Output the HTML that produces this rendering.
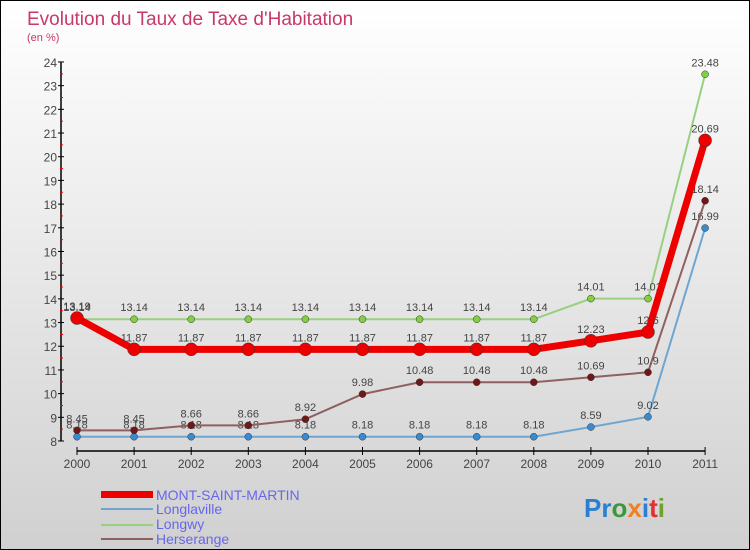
<!DOCTYPE html>
<html><head><meta charset="utf-8"><style>
body{margin:0}
#c{width:750px;height:550px;position:relative;font-family:"Liberation Sans",sans-serif;background:linear-gradient(#ffffff,#d0d0d0);box-sizing:border-box;border:1px solid #000;overflow:hidden}
</style></head><body>
<div id="c">
<svg id="s" width="750" height="550" style="position:absolute;left:0;top:0">
<text x="26" y="24" font-size="19" fill="#c8386a">Evolution du Taux de Taxe d'Habitation</text>
<text x="26" y="40" font-size="11" fill="#c8386a">(en %)</text>
<g id="g"></g>
<g>
<rect x="100" y="490" width="52" height="7" fill="#e00"/>
<text x="155" y="499" font-size="14" fill="#6666ee">MONT-SAINT-MARTIN</text>
<rect x="100" y="507" width="52" height="2" fill="#6fa6d0"/>
<text x="155" y="513" font-size="14" fill="#6666ee">Longlaville</text>
<rect x="100" y="523" width="52" height="2" fill="#99d080"/>
<text x="155" y="528" font-size="14" fill="#6666ee">Longwy</text>
<rect x="100" y="537" width="52" height="2" fill="#906060"/>
<text x="155" y="543" font-size="14" fill="#6666ee">Herserange</text>
</g>
<text x="583" y="516" font-size="26" font-weight="bold"><tspan fill="#2a7fd0">Pr</tspan><tspan fill="#3a9a3a">o</tspan><tspan fill="#f08020">x</tspan><tspan fill="#2a7fd0">i</tspan><tspan fill="#e03030">t</tspan><tspan fill="#70a030">i</tspan></text>
</svg>
</div>
<script>
const years=[2000,2001,2002,2003,2004,2005,2006,2007,2008,2009,2010,2011];
const mont=[13.19,11.87,11.87,11.87,11.87,11.87,11.87,11.87,11.87,12.23,12.6,20.69];
const longlaville=[8.18,8.18,8.18,8.18,8.18,8.18,8.18,8.18,8.18,8.59,9.02,16.99];
const longwy=[13.14,13.14,13.14,13.14,13.14,13.14,13.14,13.14,13.14,14.01,14.01,23.48];
const herserange=[8.45,8.45,8.66,8.66,8.92,9.98,10.48,10.48,10.48,10.69,10.9,18.14];
const yTicks=[8,9,10,11,12,13,14,15,16,17,18,19,20,21,22,23,24];
const monLabels=["13.19","11.87","11.87","11.87","11.87","11.87","11.87","11.87","11.87","12.23","12.6","20.69"];
const llLabels=["8.18","8.18","8.18","8.18","8.18","8.18","8.18","8.18","8.18","8.59","9.02","16.99"];
const lwLabels=["13.14","13.14","13.14","13.14","13.14","13.14","13.14","13.14","13.14","14.01","14.01","23.48"];
const hsLabels=["8.45","8.45","8.66","8.66","8.92","9.98","10.48","10.48","10.48","10.69","10.9","18.14"];
const NS="http://www.w3.org/2000/svg";
const g=document.getElementById('g');
const X=i=>76+i*57.1;
const Y=v=>440-(v-8)*23.69;
function el(t,a,p){const e=document.createElementNS(NS,t);for(const k in a)e.setAttribute(k,a[k]);(p||g).appendChild(e);return e;}
// axes
let ax=el('line',{x1:60,y1:61,x2:60,y2:440,stroke:'#000','stroke-width':1.5});


yTicks.forEach(v=>{
 const t=el('line',{x1:57,x2:63,y1:Y(v),y2:Y(v),stroke:'#000'});
 
 
 const m=el('line',{x1:59,x2:62,y1:Y(v+0.5),y2:Y(v+0.5),stroke:'#e00'});
 if(v===24)m.remove();
 
 
 const l=el('text',{x:56,y:Y(v)+5,'text-anchor':'end','font-size':12,fill:'#444'});
 l.textContent=v;
 
 
});
let xa=el('line',{x1:76,y1:450,x2:X(11),y2:450,stroke:'#000','stroke-width':1.5});


years.forEach((y,i)=>{
 const t=el('line',{x1:X(i),x2:X(i),y1:446,y2:454,stroke:'#000'});
 
 
 const l=el('text',{x:X(i),y:467,'text-anchor':'middle','font-size':12,fill:'#444'});
 l.textContent=y;
 
 
});
function series(d,labs,col,w,r,name,dot){
 const s=el('polyline',{points:d.map((v,i)=>X(i)+','+Y(v)).join(' '),fill:'none',stroke:col,'stroke-width':w,'stroke-linejoin':'round'});
 
 
 d.forEach((v,i)=>{
  const c=el('circle',{cx:X(i),cy:Y(v),r:r,fill:dot,stroke:'#333','stroke-width':0.5});
  
  
  const l=el('text',{x:X(i),y:Y(v)-8,'text-anchor':'middle','font-size':11,fill:'#444'});
  l.textContent=labs[i];
  
  
 });
}
series(longlaville,llLabels,'#6fa6d0',2,3.5,'longlaville','#3a8ad0');
series(longwy,lwLabels,'#99d080',2,3.5,'longwy','#80d040');
series(herserange,hsLabels,'#906060',2,3.5,'herserange','#701818');
series(mont,monLabels,'#ee0000',7,6.5,'mont-saint-martin','#ee0000');
</script>
</body></html>
